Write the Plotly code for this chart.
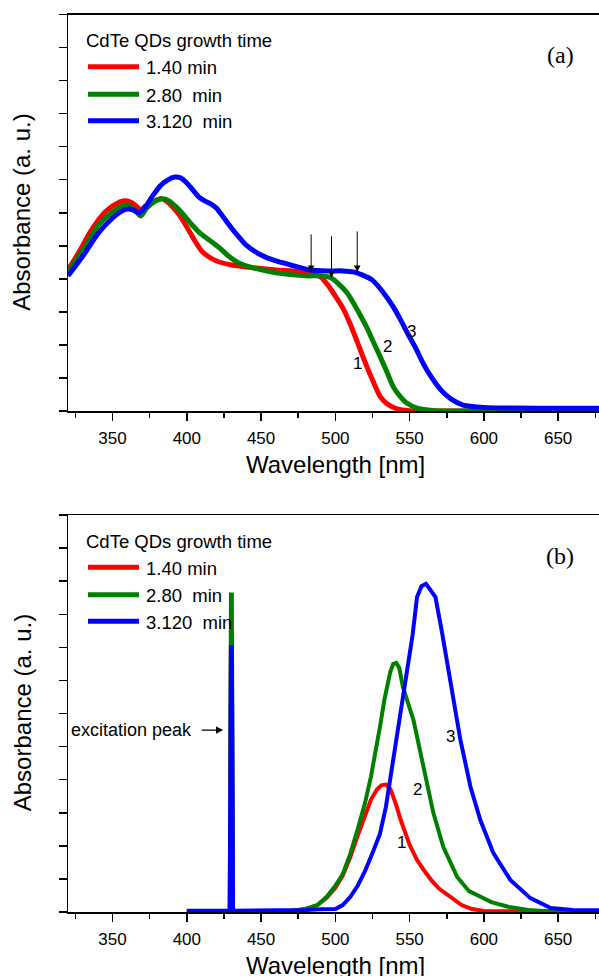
import plotly.graph_objects as go

W, H = 599, 976
FONT = "Liberation Sans, Arial, sans-serif"
SERIF = "Liberation Serif, Times New Roman, serif"

# ---------------- Panel (a): absorption spectra ----------------
wl_a_red = [320, 325, 330, 335, 340, 345, 350, 355, 359, 363, 366, 369, 372, 376, 380, 383, 386, 390, 395, 400,
            405, 410, 415, 420, 430, 440, 460, 480, 490, 495, 500, 505, 510, 515, 520, 525, 530, 535, 540, 545,
            550, 560, 600, 640, 680]
abs_red = [4.27, 4.63, 5.02, 5.42, 5.75, 6.02, 6.20, 6.33, 6.36, 6.30, 6.20, 6.08, 6.20, 6.30, 6.39, 6.42, 6.36, 6.20, 5.93, 5.57,
           5.18, 4.84, 4.66, 4.54, 4.42, 4.36, 4.27, 4.21, 4.06, 3.81, 3.48, 3.12, 2.63, 2.06, 1.48, 0.94, 0.45, 0.21, 0.09, 0.03,
           0.01, 0.0, 0.0, 0.0, 0.0]

wl_a_green = [320, 330, 340, 350, 355, 360, 365, 369, 373, 378, 383, 388, 393, 398, 403, 408, 413, 418, 423, 428,
              435, 445, 460, 480, 490, 497, 503, 508, 513, 518, 522, 526, 530, 535, 539, 544, 548, 555, 564, 570,
              600, 640, 680]
abs_green = [4.21, 4.87, 5.60, 6.02, 6.17, 6.23, 6.08, 5.90, 6.14, 6.33, 6.42, 6.36, 6.17, 5.93, 5.66, 5.42, 5.24, 5.08, 4.90, 4.69,
             4.48, 4.33, 4.18, 4.09, 4.09, 4.03, 3.81, 3.57, 3.20, 2.80, 2.45, 2.05, 1.66, 1.15, 0.73, 0.42, 0.24, 0.09, 0.02, 0.0,
             0.0, 0.0, 0.0]

wl_a_blue = [320, 330, 340, 350, 355, 360, 364, 368, 372, 377, 382, 387, 392, 396, 400, 404, 408, 412, 416, 420,
             425, 430, 435, 440, 450, 460, 470, 483, 495, 505, 512, 518, 525, 532, 539, 544, 548.5, 554, 559, 565,
             571, 578, 586, 600, 620, 650, 680]
abs_blue = [4.09, 4.69, 5.36, 5.84, 6.02, 6.11, 6.08, 5.99, 6.17, 6.51, 6.81, 6.99, 7.08, 7.05, 6.90, 6.69, 6.48, 6.36, 6.27, 6.14,
            5.84, 5.54, 5.27, 5.02, 4.72, 4.54, 4.42, 4.27, 4.24, 4.24, 4.21, 4.12, 3.96, 3.60, 3.15, 2.75, 2.36, 1.91, 1.45, 1.00,
            0.64, 0.36, 0.18, 0.11, 0.09, 0.08, 0.08]

# excitonic peak arrows (wavelength, tail value, head value)
arrow_wl = [483.7, 497.4, 514.7]
arrow_tail = [5.39, 5.33, 5.48]
arrow_head = [4.21, 4.03, 4.21]

# curve number labels
num_a_wl = [514.9, 535.1, 551.2]
num_a_val = [1.45, 1.94, 2.42]

# ---------------- Panel (b): photoluminescence spectra ----------------
wl_b_red = [400, 428.9, 429.7, 430.3, 431.1, 433, 470, 480, 488, 494, 500, 505, 510, 515, 520, 524, 528, 531, 534,
            537, 541, 544, 550, 555, 560, 565, 570, 578, 585, 592, 600, 640, 680]
pl_red = [0.03, 0.03, 7.9, 7.9, 0.03, 0.03, 0.03, 0.09, 0.21, 0.42, 0.73, 1.10, 1.65, 2.30, 2.95, 3.40, 3.70, 3.83, 3.85,
          3.72, 3.23, 2.78, 2.03, 1.57, 1.24, 0.94, 0.70, 0.42, 0.21, 0.09, 0.03, 0.02, 0.02]

wl_b_green = [400, 428.9, 429.7, 430.3, 431.1, 433, 470, 480, 488, 494, 500, 505, 510, 515, 520, 524, 527, 530, 533,
              535, 537, 539, 541, 543, 545.5, 552.6, 559.3, 566, 572.7, 582, 590, 597.6, 605, 617, 630, 640, 680]
pl_green = [0.03, 0.03, 9.6, 9.6, 0.03, 0.03, 0.03, 0.09, 0.21, 0.45, 0.79, 1.15, 1.75, 2.5, 3.3, 4.1, 4.8, 5.59, 6.41,
            6.83, 7.26, 7.50, 7.53, 7.38, 6.80, 5.80, 4.38, 2.99, 1.96, 1.06, 0.63, 0.45, 0.30, 0.15, 0.06, 0.03, 0.02]

wl_b_blue = [400, 428.9, 429.7, 430.3, 431.1, 433, 480, 490, 500, 505, 510, 515, 520, 525, 530, 534, 539, 543, 546,
             549, 552, 555, 558, 561, 564, 567.4, 571.9, 577.5, 584.2, 591, 597.6, 606.4, 617.8, 631.3, 645, 660, 680]
pl_blue = [0.04, 0.04, 8.0, 8.0, 0.04, 0.04, 0.06, 0.08, 0.09, 0.21, 0.45, 0.79, 1.24, 1.78, 2.36, 3.17, 4.59, 5.74, 6.62,
           7.53, 8.37, 9.52, 9.85, 9.92, 9.73, 9.52, 8.43, 6.92, 5.20, 3.78, 2.78, 1.78, 0.97, 0.42, 0.12, 0.06, 0.05]

num_b_wl = [544.3, 555.1, 577.5]
num_b_val = [2.09, 3.69, 5.29]

excitation_text_wl = 363.0
excitation_val = 5.50
excitation_arrow_wl = [409.0, 424.5]

legend_title = "CdTe QDs growth time"
legend_labels = ["1.40 min", "2.80\u00a0 min", "3.120\u00a0 min"]
colors = ["#ff0000", "#008000", "#0000ff"]
x_ticks = [350, 400, 450, 500, 550, 600, 650]

fig = go.Figure()

for wl, ab, c in [(wl_a_red, abs_red, colors[0]), (wl_a_green, abs_green, colors[1]), (wl_a_blue, abs_blue, colors[2])]:
    fig.add_trace(go.Scatter(x=wl, y=ab, mode="lines", xaxis="x", yaxis="y",
                             line=dict(color=c, width=5, shape="spline", smoothing=0.6),
                             showlegend=False, hoverinfo="skip"))

for wl, pl, c in [(wl_b_red, pl_red, colors[0]), (wl_b_green, pl_green, colors[1]), (wl_b_blue, pl_blue, colors[2])]:
    fig.add_trace(go.Scatter(x=wl, y=pl, mode="lines", xaxis="x2", yaxis="y2",
                             line=dict(color=c, width=4),
                             showlegend=False, hoverinfo="skip"))


def py(p):
    return 1 - p / H


def xaxis_cfg(anchor):
    return dict(domain=[68 / W, 1], range=[320, 677.5], anchor=anchor,
                showline=True, linecolor="black", linewidth=1.5, mirror=True,
                ticks="outside", ticklen=8, tickwidth=1.5, tickcolor="black",
                tickmode="array", tickvals=x_ticks, ticktext=[str(t) for t in x_ticks],
                ticklabelstandoff=3,
                minor=dict(ticks="outside", dtick=25, tick0=0, ticklen=5, tickwidth=1.5, tickcolor="black"),
                showgrid=False, zeroline=False,
                tickfont=dict(family=FONT, size=17, color="black"))


def yaxis_cfg(anchor, top, bottom):
    return dict(domain=[py(bottom), py(top)], range=[0, 12], anchor=anchor,
                showline=True, linecolor="black", linewidth=1.5,
                ticks="outside", ticklen=8, tickwidth=1.5, tickcolor="black",
                tick0=0, dtick=1, showticklabels=False,
                showgrid=False, zeroline=False)


annotations = []
shapes = []

for off, tag in [(0, "(a)"), (500.5, "(b)")]:
    # axis titles
    annotations.append(dict(text="Absorbance (a. u.)", xref="paper", yref="paper", x=22 / W, y=py(212.75 + off),
                            textangle=-90, showarrow=False, xanchor="center", yanchor="middle",
                            font=dict(family=FONT, size=24, color="black")))
    annotations.append(dict(text="Wavelength [nm]", xref="paper", yref="paper", x=335 / W, y=py(465 + off),
                            showarrow=False, xanchor="center", yanchor="middle",
                            font=dict(family=FONT, size=24, color="black")))
    # panel tag
    annotations.append(dict(text=tag, xref="paper", yref="paper", x=560 / W, y=py(55 + off),
                            showarrow=False, xanchor="center", yanchor="middle",
                            font=dict(family=SERIF, size=24, color="black")))
    # legend
    annotations.append(dict(text=legend_title, xref="paper", yref="paper", x=84 / W, y=py(40.7 + off),
                            showarrow=False, xanchor="left", yanchor="middle",
                            font=dict(family=FONT, size=18.5, color="black")))
    for i, (lab, c) in enumerate(zip(legend_labels, colors)):
        yy = [66.7, 94.3, 120.7][i] + off
        shapes.append(dict(type="line", xref="paper", yref="paper", x0=88 / W, x1=139 / W, y0=py(yy), y1=py(yy),
                           line=dict(color=c, width=5)))
        annotations.append(dict(text=lab, xref="paper", yref="paper", x=144 / W, y=py(yy + 1),
                                showarrow=False, xanchor="left", yanchor="middle",
                                font=dict(family=FONT, size=18.5, color="black")))

# arrows (a)
for wl, t, h in zip(arrow_wl, arrow_tail, arrow_head):
    annotations.append(dict(text="", x=wl, y=h, ax=wl, ay=t, xref="x", yref="y", axref="x", ayref="y",
                            showarrow=True, arrowhead=2, arrowsize=1.3, arrowwidth=1, arrowcolor="black"))

# curve numbers
for i in range(3):
    annotations.append(dict(text=str(i + 1), x=num_a_wl[i], y=num_a_val[i], xref="x", yref="y",
                            showarrow=False, font=dict(family=FONT, size=17, color="black")))
    annotations.append(dict(text=str(i + 1), x=num_b_wl[i], y=num_b_val[i], xref="x2", yref="y2",
                            showarrow=False, font=dict(family=FONT, size=17, color="black")))

# excitation peak label
annotations.append(dict(text="excitation peak", x=excitation_text_wl, y=excitation_val, xref="x2", yref="y2",
                        showarrow=False, font=dict(family=FONT, size=18, color="black")))
annotations.append(dict(text="", x=excitation_arrow_wl[1], y=excitation_val, ax=excitation_arrow_wl[0], ay=excitation_val,
                        xref="x2", yref="y2", axref="x2", ayref="y2",
                        showarrow=True, arrowhead=2, arrowsize=1.2, arrowwidth=1.2, arrowcolor="black"))

fig.update_layout(
    width=W, height=H,
    margin=dict(l=0, r=0, t=0, b=0),
    paper_bgcolor="white", plot_bgcolor="white",
    xaxis=xaxis_cfg("y"),
    yaxis=yaxis_cfg("x", 14.5, 411),
    xaxis2=xaxis_cfg("y2"),
    yaxis2=yaxis_cfg("x2", 515, 912),
    annotations=annotations,
    shapes=shapes,
    showlegend=False,
    font=dict(family=FONT, color="black"),
)

fig.write_html("out.html",
               config={"displayModeBar": False, "staticPlot": True},
               post_script="document.body.style.margin='0px';document.body.style.overflow='hidden';")
